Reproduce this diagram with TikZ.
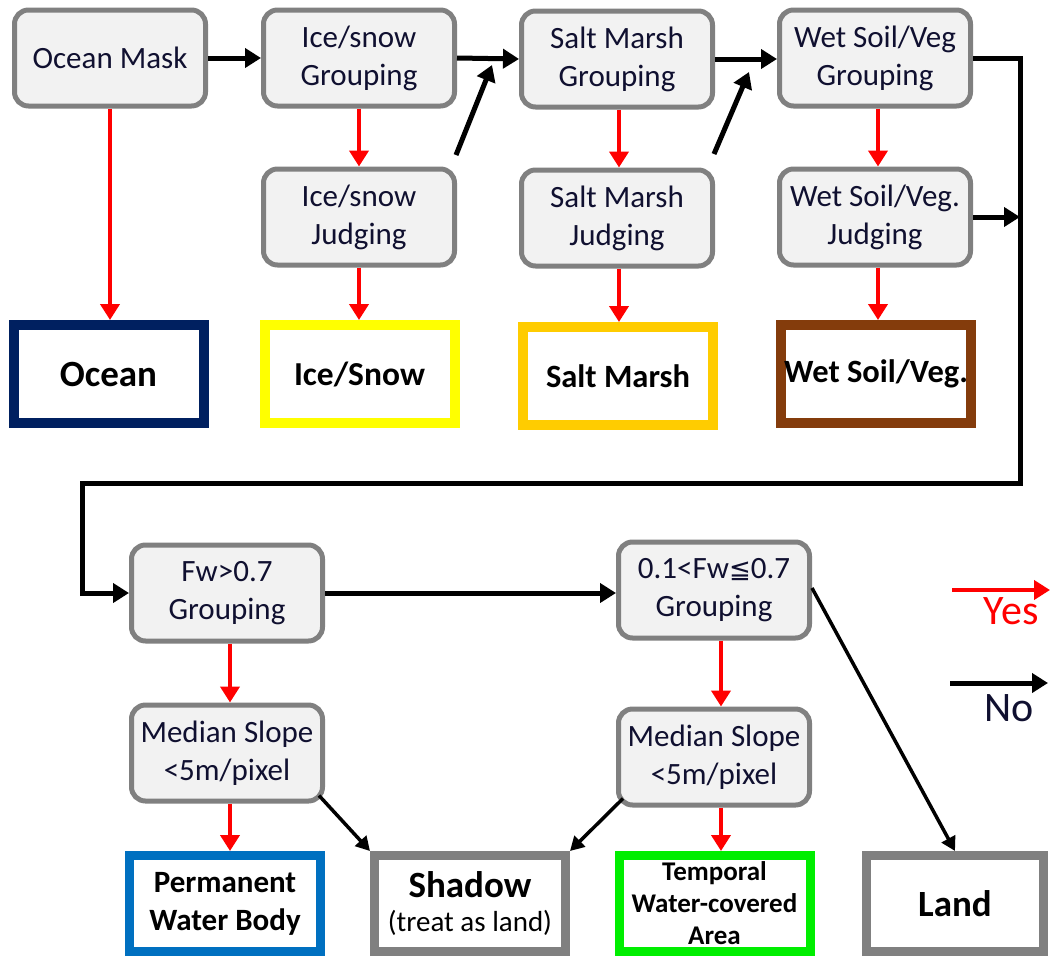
\documentclass[tikz,border=0pt]{standalone}
\usepackage{fontspec}
\setmainfont{Carlito}
\newfontfamily\dejavu{DejaVu Sans}
\usetikzlibrary{arrows.meta,calc}
\definecolor{boxgray}{HTML}{808080}
\definecolor{boxfill}{HTML}{F2F2F2}
\definecolor{oceanc}{HTML}{002060}
\definecolor{icec}{HTML}{FFFF00}
\definecolor{saltc}{HTML}{FFCC00}
\definecolor{wetc}{HTML}{843C0C}
\definecolor{permc}{HTML}{0070C0}
\definecolor{tempc}{HTML}{00EE00}
\definecolor{txt}{HTML}{101030}
\begin{document}
\begin{tikzpicture}[x=1pt,y=-1pt,
 proc/.style={draw=boxgray, line width=5pt, fill=boxfill, rounded corners=14pt,
   minimum width=191pt, minimum height=96pt, inner sep=0pt, align=center,
   text=txt, font=\fontsize{31}{38}\selectfont},
 outc/.style={draw=#1, line width=10pt, fill=white, minimum width=190pt,
   minimum height=98pt, inner sep=0pt, align=center,
   font=\bfseries\fontsize{32.5}{38}\selectfont},
 outb/.style={draw=#1, line width=9pt, fill=white, minimum width=191pt,
   minimum height=96pt, inner sep=0pt, align=center,
   font=\bfseries\fontsize{31}{38}\selectfont},
 yes/.style={draw=red, line width=4.5pt, -{Triangle[length=16pt,width=19pt]}},
 no/.style={draw=black, line width=5pt, -{Triangle[length=16pt,width=19pt]}},
 nothin/.style={draw=black, line width=3.5pt, -{Triangle[length=14pt,width=15pt]}},
]
\useasboundingbox (0,0) rectangle (1052,959);
% process boxes
\node[proc] (om)  at (110,58)  {Ocean Mask};
\node[proc] (isg) at (359,58)  {Ice/snow\\Grouping};
\node[proc] (isj) at (359,217) {Ice/snow\\Judging};
\node[proc] (smg) at (617,59)  {Salt Marsh\\Grouping};
\node[proc] (smj) at (617,218) {Salt Marsh\\Judging};
\node[proc] (wsg) at (875,58)  {Wet Soil/Veg\\Grouping};
\node[proc] (wsj) at (875,217) {Wet Soil/Veg.\\Judging};
\node[proc] (fw1) at (227,593) {Fw>0.7\\Grouping};
\node[proc] (fw2) at (714,590) {0.1<Fw{\dejavu\fontsize{26}{30}\selectfont ≦}0.7\\Grouping};
\node[proc] (ms1) at (227,753) {Median Slope\\<5m/pixel};
\node[proc] (ms2) at (714,757) {Median Slope\\<5m/pixel};
% outcome boxes
\node[outc=oceanc, font=\bfseries\fontsize{37}{40}\selectfont] (ocean) at (108.5,374) {Ocean};
\node[outc=icec, font=\bfseries\fontsize{33.5}{38}\selectfont] (ice) at (359.5,374) {Ice/Snow};
\node[outc=saltc] (salt) at (618,376) {Salt Marsh};
\node[outc=wetc] (wet) at (876,374) {Wet Soil/Veg.};
\node[outb=permc] (perm) at (225,903.5) {Permanent\\Water Body};
\node[outb=boxgray] (shadow) at (470,903.5) {{\fontsize{37}{40}\selectfont Shadow}\\[-4pt]{\mdseries\fontsize{29}{34}\selectfont (treat as land)}};
\node[outb=tempc, font=\bfseries\fontsize{27}{32}\selectfont] (temp) at (714.5,903.5) {Temporal\\Water-covered\\Area};
\node[outb=boxgray, font=\bfseries\fontsize{37}{40}\selectfont, minimum width=177pt] (land) at (955,903.5) {Land};
% coordinates
\coordinate (c1) at (1020,483);
\coordinate (c2) at (82,483);
\coordinate (d1a) at (456,155);
\coordinate (d1b) at (492,65);
\coordinate (d2a) at (714,154);
\coordinate (d2b) at (749,72);
% black (No) connectors
\draw[no] (om.east) -- (isg.west);
\draw[no] (isg.east) -- (smg.west);
\draw[no] (smg.east) -- (smg.east -| wsg.west);
\draw[no] (d1a) -- (d1b);
\draw[no] (d2a) -- (d2b);
\draw[no] (wsg.east) -| (c1) -- (c2) |- (fw1.west);
\draw[no] (wsj.east) -- (wsj.east -| c1);
\draw[no] (fw1.east) -- (fw1.east -| fw2.west);
\draw[nothin] ($(ms1.south east)+(-6,-8)$) -- (shadow.north west);
\draw[nothin] ($(ms2.south west)+(7,-9)$) -- (shadow.north east);
\draw[nothin] ($(fw2.east)+(0,-2)$) -- (land.north);
% red (Yes) connectors
\draw[yes] (om.south) -- (om.south |- ocean.north);
\draw[yes] (isg.south) -- (isj.north);
\draw[yes] (isj.south) -- (isj.south |- ice.north);
\draw[yes] ($(smg.south)+(2,0)$) -- ($(smj.north)+(2,0)$);
\draw[yes] ($(smj.south)+(2,0)$) -- ($(smj.south |- salt.north)+(2,0)$);
\draw[yes] ($(wsg.south)+(3,0)$) -- ($(wsj.north)+(3,0)$);
\draw[yes] ($(wsj.south)+(3,0)$) -- ($(wsj.south |- wet.north)+(3,0)$);
\draw[yes] ($(fw1.south)+(3,0)$) -- ($(ms1.north)+(3,0)$);
\draw[yes] ($(ms1.south)+(3,0)$) -- ($(ms1.south |- perm.north)+(3,0)$);
\draw[yes] ($(fw2.south)+(7,0)$) -- ($(ms2.north)+(7,0)$);
\draw[yes] ($(ms2.south)+(7,0)$) -- ($(ms2.south |- temp.north)+(7,0)$);
% legend
\coordinate (ys) at (952,590);
\coordinate (ye) at (1050,590);
\coordinate (ns) at (950,683);
\coordinate (ne) at (1048,683);
\draw[yes] (ys) -- (ye);
\draw[no] (ns) -- (ne);
\node[text=red, font=\fontsize{42}{44}\selectfont, inner sep=0pt] (yl) at (1011,611) {Yes};
\node[text=txt, font=\fontsize{42}{44}\selectfont, inner sep=0pt] (nl) at (1009,708) {No};
\end{tikzpicture}
\end{document}
